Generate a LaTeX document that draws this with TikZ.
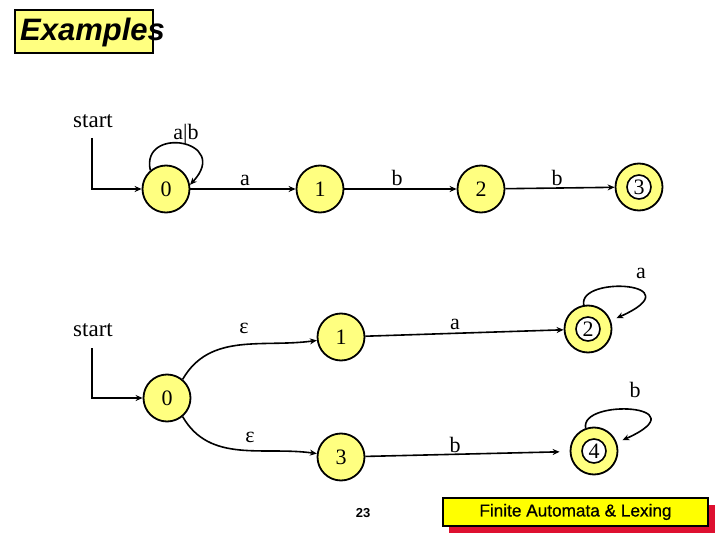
\documentclass[tikz,border=0pt]{standalone}
\usepackage{fontspec}
\setmainfont{Liberation Serif}
\setsansfont{Liberation Sans}
\usetikzlibrary{arrows.meta}
\definecolor{paleyel}{RGB}{255,255,128}
\definecolor{brightyel}{RGB}{255,255,0}
\definecolor{shadowred}{RGB}{222,16,48}
\begin{document}
\begin{tikzpicture}[x=1pt,y=-1pt,
  every node/.style={inner sep=0pt},
  state/.style={circle,draw=black,line width=1.8pt,fill=paleyel,minimum size=47pt,font=\fontsize{22}{24}\selectfont},
  inner/.style={circle,draw=black,line width=1.6pt,fill=white,minimum size=24pt,font=\fontsize{22}{24}\selectfont},
  edge/.style={line width=1.6pt,-{Stealth[length=7pt,width=6pt]}},
  lbl/.style={font=\fontsize{22}{24}\selectfont,anchor=base},
  txt/.style={font=\fontsize{23}{25}\selectfont}]
\useasboundingbox (0,0) rectangle (720,540);
\fill[white] (0,0) rectangle (720,540);
% title
\node[draw=black,line width=1.5pt,fill=paleyel,minimum width=138pt,minimum height=43pt] (tbox) at (84,31.5) {};
\node[font=\fontsize{31}{33}\selectfont\sffamily\bfseries\itshape,anchor=west] (title) at (20,32) {Examples};
% top automaton
\node[txt] (start1) at (93,121) {start};
\coordinate (s1) at (92,138);
\node[state] (a0) at (166,189) {0};
\node[state] (a1) at (320,189) {1};
\node[state] (a2) at (481,189) {2};
\node[state] (a3) at (639,187) {};
\node[inner] (a3i) at (a3) {3};
\draw[line width=1.6pt,-{Stealth[length=7pt,width=6pt]}] (s1) |- (a0);
\draw[edge] (a0.130) .. controls +(-10,-45) and +(42,-45) .. (a0.10);
\node[lbl] (lab0) at (186,140) {a|b};
\draw[edge] (a0) -- (a1);
\node[lbl] (la01) at (245,186) {a};
\draw[edge] (a1) -- (a2);
\node[lbl] (la12) at (397,186) {b};
\draw[edge] (a2) -- (a3);
\node[lbl] (la23) at (557,186) {b};
% bottom automaton
\node[txt] (start2) at (93,330) {start};
\coordinate (s2) at (92,348);
\node[state] (b0) at (167,398) {0};
\node[state] (b1) at (341,337) {1};
\node[state] (b3) at (341,457) {3};
\node[state] (b2) at (588,329) {};
\node[inner] (b2i) at (b2) {2};
\node[state] (b4) at (594,451) {};
\node[inner] (b4i) at (b4) {4};
\draw[line width=1.6pt,-{Stealth[length=7pt,width=6pt]}] (s2) |- (b0);
\draw[edge] (b0.50) to[out=60,in=188] (b1);
\draw[edge] (b0.-50) to[out=-60,in=172] (b3);
\node[lbl,anchor=center] (le1) at (244,328) {ε};
\node[lbl,anchor=center] (le2) at (250,437) {ε};
\draw[edge] (b1) -- (b2);
\node[lbl] (la) at (455,329) {a};
\draw[edge,shorten >=10pt] (b3) -- (b4);
\node[lbl] (lb) at (455,452) {b};
\draw[edge,shorten >=6pt] (b2.100) .. controls +(-6,-30) and +(85,-38) .. (b2.20);
\node[lbl] (la2) at (641,278) {a};
\draw[edge,shorten >=6pt] (b4.110) .. controls +(-6,-30) and +(85,-38) .. (b4.20);
\node[lbl] (lb4) at (635,397) {b};
% footer
\node[font=\fontsize{13}{14}\selectfont\sffamily\bfseries] (pg) at (363,513) {23};
\fill[shadowred] (449,505) rectangle (715,533);
\node[draw=black,line width=1.5pt,fill=brightyel,minimum width=265pt,minimum height=28pt,font=\fontsize{17.2}{18}\selectfont\sffamily\addfontfeature{FakeBold=0.6}] (foot) at (575.5,512) {Finite Automata \& Lexing};
\end{tikzpicture}
\end{document}
